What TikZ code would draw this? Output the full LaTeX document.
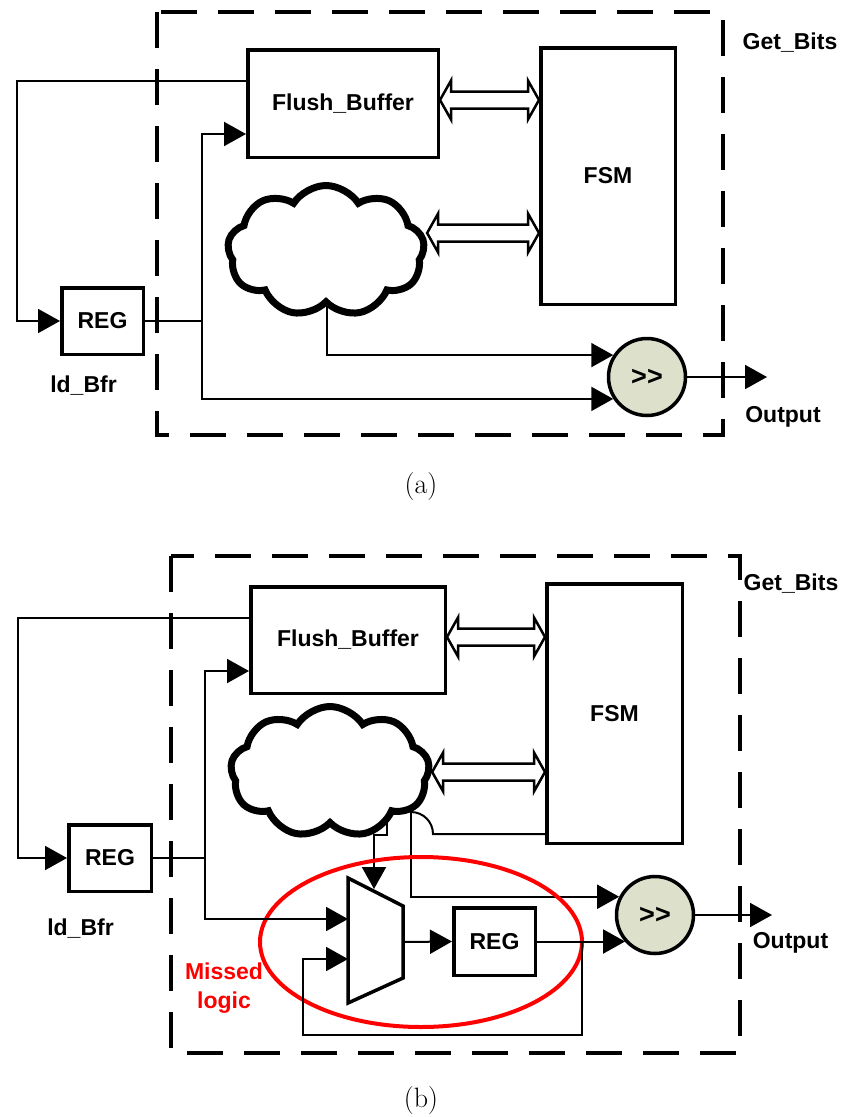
\documentclass[tikz,border=0pt]{standalone}
\usepackage{fontspec}
\newfontfamily\diagfont{Liberation Sans}
\usetikzlibrary{calc, positioning, arrows.meta, shapes.symbols, backgrounds}
\definecolor{shiftgreen}{RGB}{221,224,203}
\newcommand{\blockfont}{\diagfont\bfseries\fontsize{23}{29}\selectfont}
\tikzset{
    block/.style={rectangle, draw=black, line width=3.5pt, fill=white, inner sep=0pt, font=\blockfont},
    logic/.style={cloud, draw=black, line width=7pt, fill=white, cloud puffs=9, cloud puff arc=115, aspect=1.5, inner sep=0pt},
    shifter/.style={circle, draw=black, line width=3.5pt, fill=shiftgreen, minimum size=77pt, inner sep=0pt, font=\diagfont\bfseries\fontsize{27}{30}\selectfont},
    muxline/.style={draw=black, line width=3.5pt, fill=white, line join=miter},
    wire/.style={line width=2pt},
    arrow/.style={wire, -{Triangle[length=22pt, width=24pt]}},
    bus/.style={draw=black, line width=2.5pt, fill=white, line join=miter},
    boundary/.style={line width=4pt, dash pattern=on 36pt off 21pt},
    missed/.style={draw=red, line width=4pt},
    txt/.style={font=\blockfont, anchor=base, inner sep=0pt},
    caption/.style={font=\fontsize{28}{34}\selectfont, anchor=base, inner sep=0pt}
}
% hollow two-headed bus arrow between two points (horizontal)
\newcommand{\busarrow}[2]{%
    \draw[bus] let \p1=#1, \p2=#2 in
        (\x1,\y1) -- (\x1+11pt,\y1+19.5pt) -- (\x1+11pt,\y1+8.5pt)
        -- (\x2-11pt,\y1+8.5pt) -- (\x2-11pt,\y1+19.5pt) -- (\x2,\y1)
        -- (\x2-11pt,\y1-19.5pt) -- (\x2-11pt,\y1-8.5pt)
        -- (\x1+11pt,\y1-8.5pt) -- (\x1+11pt,\y1-19.5pt) -- cycle;}

\begin{document}
\begin{tikzpicture}[x=1pt, y=-1pt]
    \useasboundingbox (0,0) rectangle (842,1117);

    % ---------------- (a) ----------------
    \draw[boundary] (157,12) rectangle (723,435);

    \node[block, minimum width=190.5pt, minimum height=107.5pt] (FBa) at (343,103.5) {Flush\_Buffer};
    \node[block, minimum width=134.5pt, minimum height=256.5pt] (FSMa) at (608,176) {FSM};
    \node[block, minimum width=81.5pt, minimum height=66.5pt] (REGa) at (102.5,321) {REG};
    \node[logic, minimum width=197pt, minimum height=131pt] (cloudA) at (326,251) {};
    \node[shifter] (SHa) at (647,377) {>{}>};

    \node[txt] (ldA) at (83.5,392) {ld\_Bfr};
    \node[txt] (gbA) at (790,49) {Get\_Bits};
    \node[txt] (outTxtA) at (783,422) {Output};

    \coordinate (jA) at (202,321);
    \coordinate (cA) at (327,300);
    \coordinate (outA) at (767,377);

    \draw[wire] (REGa.east) -- (jA);
    \draw[arrow] (jA) |- ([yshift=-30.5pt]FBa.west);
    \draw[arrow] (jA) |- (SHa.213);
    \draw[arrow] ([yshift=22.5pt]FBa.west) -- ++(-229,0) |- (REGa.west);
    \begin{scope}[on background layer]
        \draw[arrow] (cA) |- (SHa.147);
    \end{scope}
    \draw[arrow] (SHa.east) -- (outA);

    \busarrow{([yshift=3.5pt]FBa.east)}{(FSMa.west)}
    \busarrow{([yshift=18pt]cloudA.east)}{(FSMa.west)}

    \node[caption] (capA) at (421,493) {(a)};

    % ---------------- (b) ----------------
    \draw[boundary] (171,556) rectangle (740,1053);

    \node[block, minimum width=194.5pt, minimum height=106.5pt] (FBb) at (348,640) {Flush\_Buffer};
    \node[block, minimum width=135.5pt, minimum height=259.5pt] (FSMb) at (614.5,713.5) {FSM};
    \node[block, minimum width=82.5pt, minimum height=66.5pt] (REGb) at (110,858) {REG};
    \node[block, minimum width=81.5pt, minimum height=67.5pt] (REG2b) at (494.5,941.5) {REG};
    \node[logic, minimum width=199pt, minimum height=131pt] (cloudB) at (330,772) {};
    \node[shifter] (SHb) at (655,915) {>{}>};

    % mux
    \draw[muxline] (348,878) -- (403,906) -- (403,978) -- (348,1003) -- cycle;
    \coordinate (muxIn1) at (348,919);
    \coordinate (muxIn2) at (348,959);
    \coordinate (muxOut) at (403,942);
    \coordinate (muxSel) at (374,889);

    \draw[missed] (421,942) ellipse [x radius=161pt, y radius=85pt];
    \node[font=\blockfont, text=red, align=center, inner sep=0pt] (missTxt) at (224,988) {Missed\\logic};

    \node[txt] (ldB) at (80.5,935) {ld\_Bfr};
    \node[txt] (gbB) at (791,590) {Get\_Bits};
    \node[txt] (outTxtB) at (790.5,948) {Output};

    \coordinate (jB) at (205,858);
    \coordinate (cB1) at (387,815);
    \coordinate (cB2) at (411,795);
    \coordinate (tapB) at (582,941.5);
    \coordinate (loopB) at (303,1035);
    \coordinate (outB) at (772,915);

    \draw[wire] (REGb.east) -- (jB);
    \draw[arrow] (jB) |- ([yshift=-31pt]FBb.west);
    \draw[arrow] (jB) |- (muxIn1);
    \draw[arrow] ([yshift=22pt]FBb.west) -- ++(-231,0) |- (REGb.west);
    \draw[arrow] (muxOut) -- (REG2b.west);
    \draw[arrow] (REG2b.east) -- (REG2b.east -| SHb.222);
    \draw[arrow] (tapB) |- (loopB) |- (muxIn2);
    \begin{scope}[on background layer]
        \draw[arrow] (cB1) -- ++(0,20) -| (muxSel);
        \draw[arrow] (cB2) |- (SHb.153);
    \end{scope}
    % FSM back to the cloud output
    \draw[wire] ([yshift=-120.5pt]FSMb.west) -- ++(-112,0) to[out=90, in=0] ++(-22,-22);
    \draw[arrow] (SHb.east) -- (outB);

    \busarrow{([yshift=3pt]FBb.east)}{(FSMb.west)}
    \busarrow{(cloudB.east)}{(FSMb.west)}

    \node[caption] (capB) at (421,1107) {(b)};
\end{tikzpicture}
\end{document}
